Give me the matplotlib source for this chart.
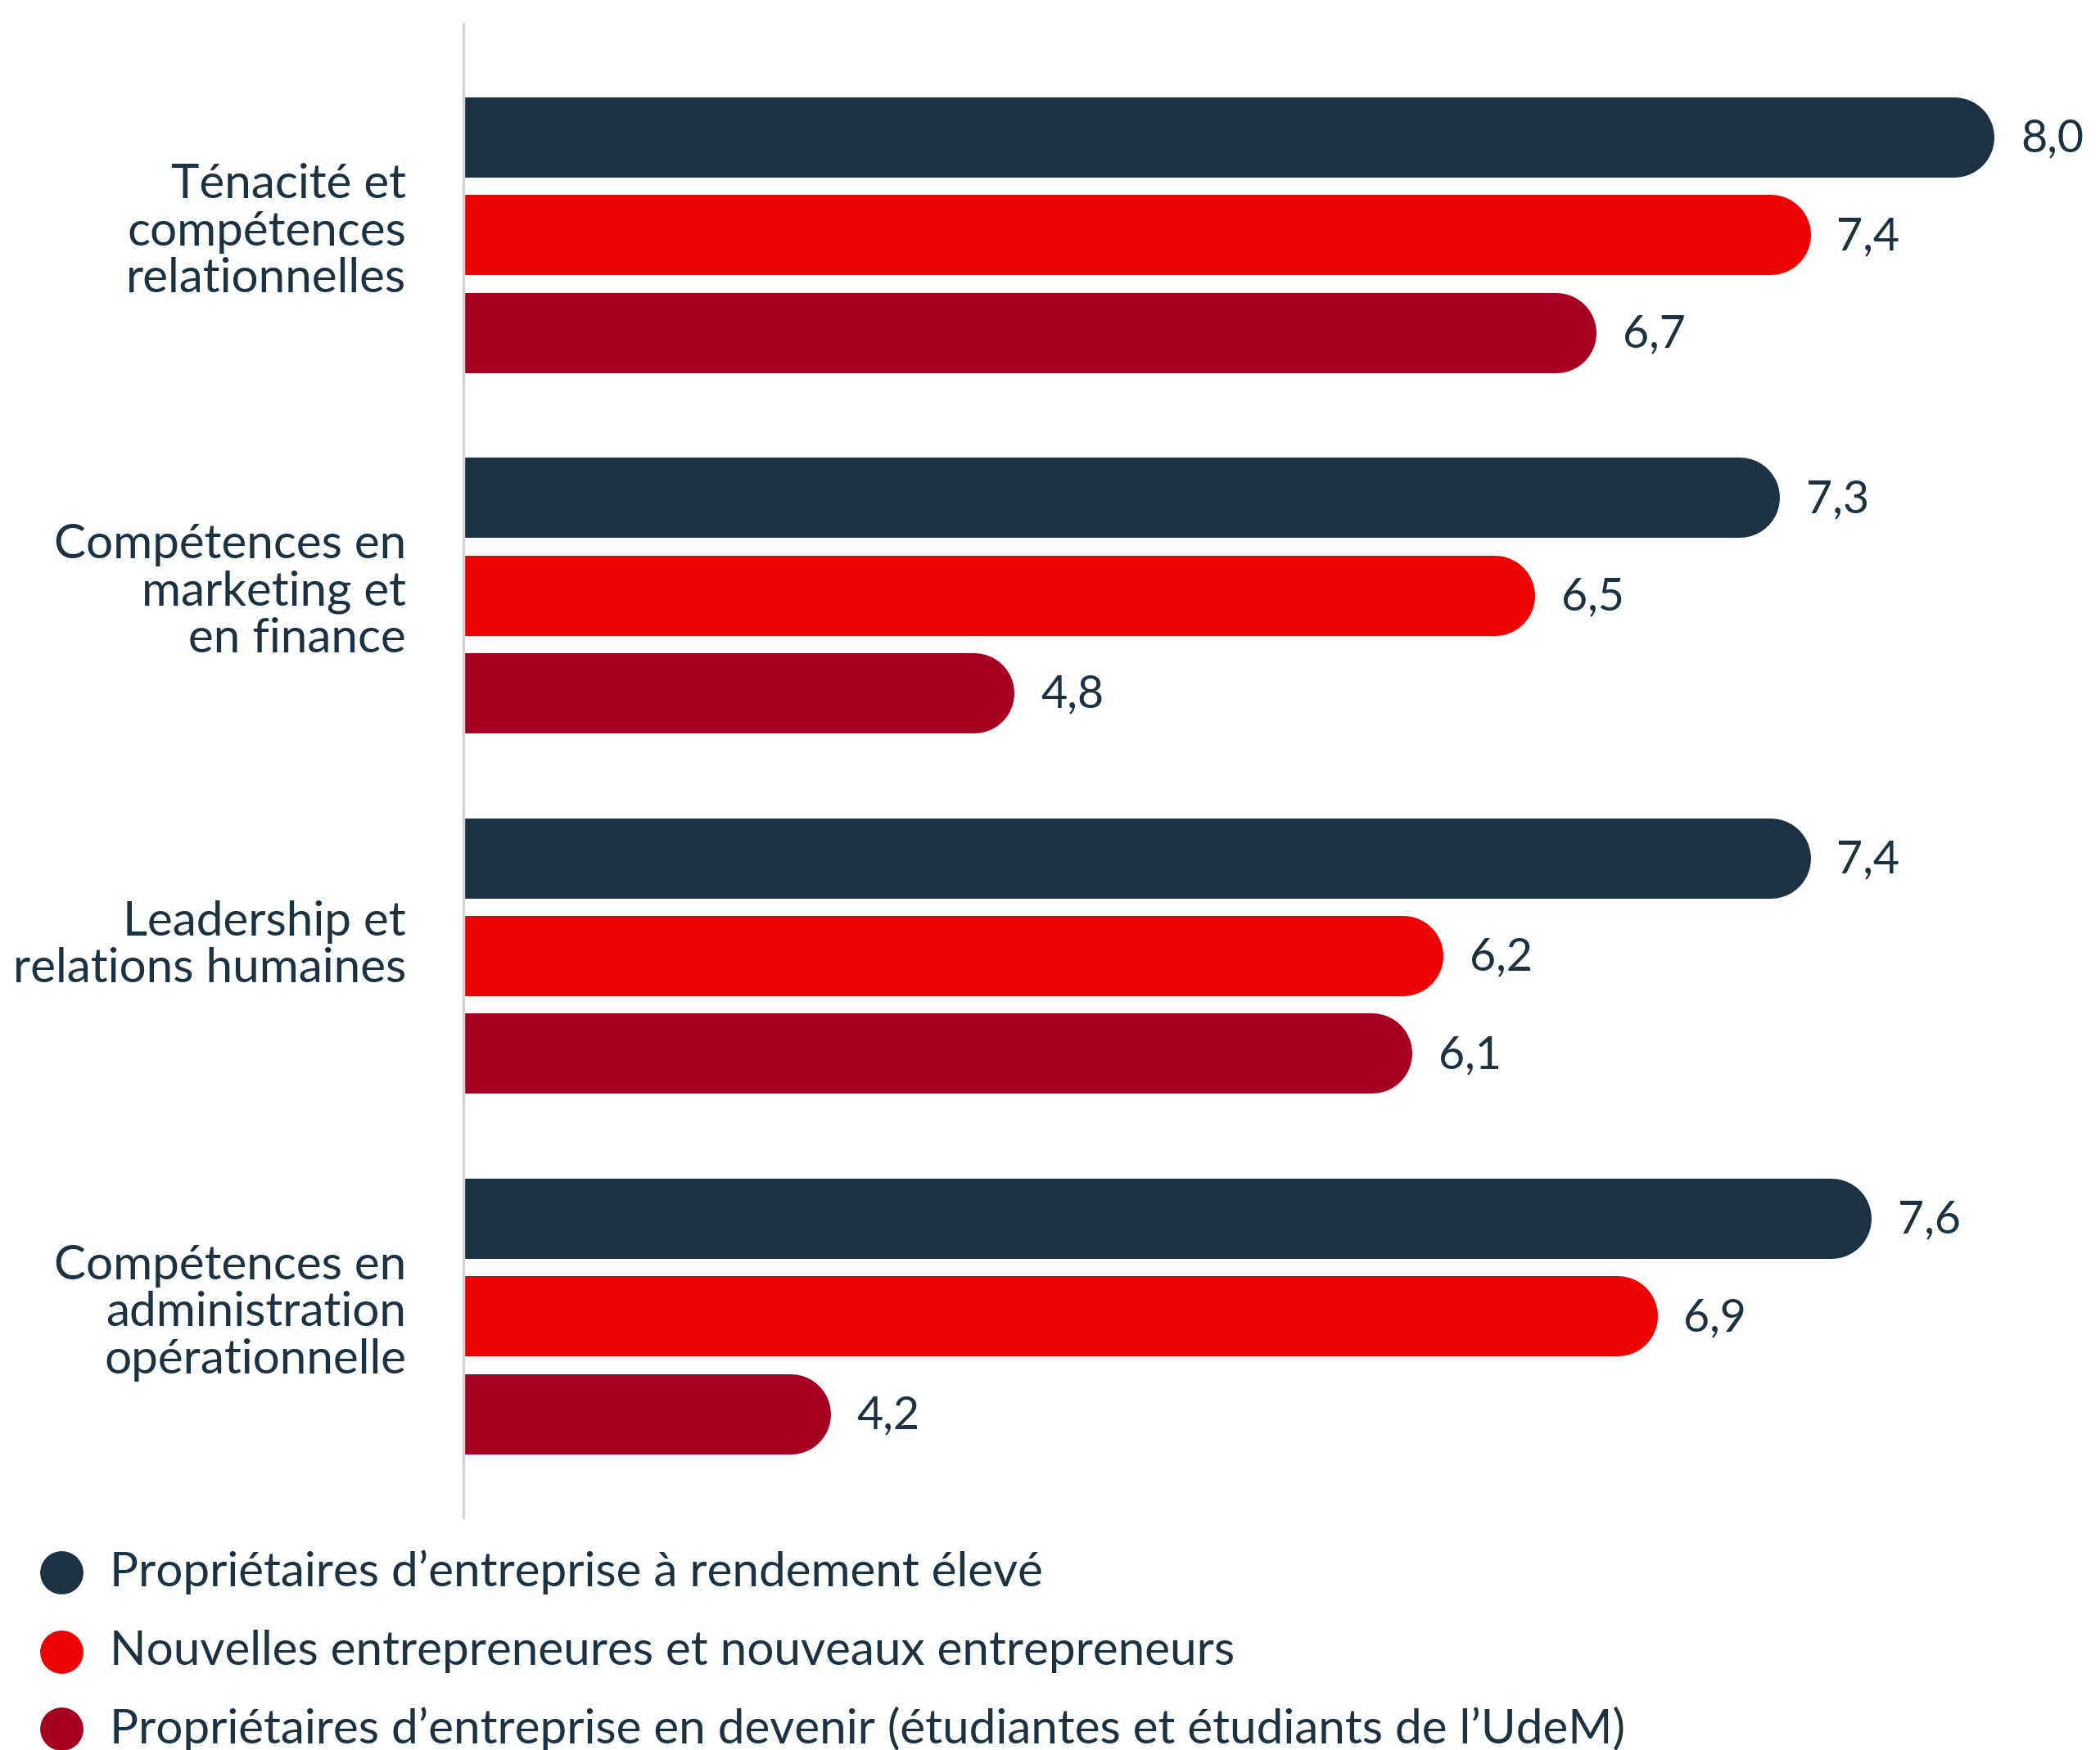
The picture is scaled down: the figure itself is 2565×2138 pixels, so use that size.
import matplotlib.pyplot as plt
import matplotlib.transforms as mtransforms

categories = [
    "Ténacité et\ncompétences\nrelationnelles",
    "Compétences en\nmarketing et\nen finance",
    "Leadership et\nrelations humaines",
    "Compétences en\nadministration\nopérationnelle",
]
series_names = [
    "Propriétaires d’entreprise à rendement élevé",
    "Nouvelles entrepreneures et nouveaux entrepreneurs",
    "Propriétaires d’entreprise en devenir (étudiantes et étudiants de l’UdeM)",
]
high_perf = [8.0, 7.3, 7.4, 7.6]
new_entr = [7.4, 6.5, 6.2, 6.9]
students = [6.7, 4.8, 6.1, 4.2]

colors = ["#1c3142", "#ee0303", "#a50021"]
text_color = "#1c3142"

plt.rcParams['font.family'] = ['Lato', 'DejaVu Sans']

W, H, DPI = 2565, 2138, 100
fig = plt.figure(figsize=(W / DPI, H / DPI), dpi=DPI)

# axes placement (pixel-based layout)
ax_left, ax_top, ax_bottom = 566, 29, 1854
ax = fig.add_axes([ax_left / W, 1 - ax_bottom / H, 1 - ax_left / W, (ax_bottom - ax_top) / H])
x0 = 3.0
px_per_unit = 374.0
ax.set_xlim(x0, x0 + (W - ax_left) / px_per_unit)
ax.set_ylim(3.558, -0.587)

bar_px = 98
offset = 0.271
cap_r = (bar_px / 2) / px_per_unit
lw = bar_px * 72 / DPI

for s, vals in enumerate([high_perf, new_entr, students]):
    for g, v in enumerate(vals):
        y = g + (s - 1) * offset
        ax.plot([x0 - 1, v - cap_r], [y, y], color=colors[s], lw=lw,
                solid_capstyle='round', zorder=2)
        ax.text(v + 0.085, y + 0.005, f"{v:.1f}".replace('.', ','), ha='left', va='center',
                fontsize=40, color=text_color)

trans = mtransforms.blended_transform_factory(ax.transAxes, ax.transData)
label_offsets = [-0.01, -0.01, -0.03, -0.01]
for g, lab in enumerate(categories):
    ax.text(-0.035, g + label_offsets[g], lab, transform=trans, ha='right', va='center',
            fontsize=42, color=text_color, linespacing=1.1)

for side in ['top', 'right', 'bottom']:
    ax.spines[side].set_visible(False)
ax.spines['left'].set_color('#d9d2cb')
ax.spines['left'].set_linewidth(2.5)
ax.spines['left'].set_zorder(3)
ax.set_xticks([])
ax.set_yticks([])
ax.patch.set_alpha(0)

# legend drawn in figure pixel coordinates
lax = fig.add_axes([0, 0, 1, 1])
lax.set_xlim(0, W)
lax.set_ylim(H, 0)
lax.axis('off')
leg_y = [1921, 2018, 2112]
for s, name in enumerate(series_names):
    lax.plot([75], [leg_y[s]], 'o', ms=38, color=colors[s], mec='none')
    lax.text(134, leg_y[s], name, ha='left', va='center', fontsize=42, color=text_color)

fig.savefig("out.png", dpi=DPI)
